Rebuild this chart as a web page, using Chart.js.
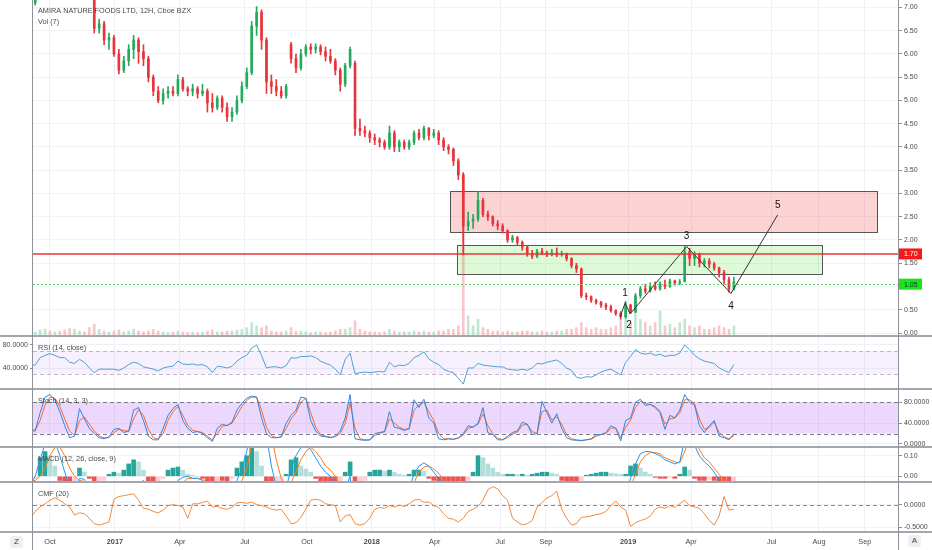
<!DOCTYPE html>
<html lang="en">
<head>
<meta charset="UTF-8">
<title>AMIRA NATURE FOODS LTD, 12H, Cboe BZX</title>
<script src="https://cdn.jsdelivr.net/npm/chart.js"></script>
<style>
  body { margin: 0; background: #fff; font-family: "Liberation Sans", Arial, sans-serif; }
  #wrap { position: relative; width: 932px; height: 550px; overflow: hidden; background: #fff; }
  canvas { position: absolute; left: 0; }
  .hsep { position: absolute; left: 0; width: 932px; height: 2px; background: #a4a7ae; }
  .vsep { position: absolute; top: 0; width: 1px; height: 550px; background: #8e9199; }
  .btn { position: absolute; width: 13px; height: 12px; line-height: 12px; text-align: center;
         font-size: 8px; color: #444; background: #efefef; border-radius: 3px; }
</style>
</head>
<body>
<div id="wrap">
  <canvas id="main" width="932" height="336" style="top:0"></canvas>
  <canvas id="rsi" width="932" height="53" style="top:336px"></canvas>
  <canvas id="stoch" width="932" height="58" style="top:389px"></canvas>
  <canvas id="macd" width="932" height="35" style="top:447px"></canvas>
  <canvas id="cmf" width="932" height="68" style="top:482px"></canvas>
  <div class="hsep" style="top:335px"></div>
  <div class="hsep" style="top:388px"></div>
  <div class="hsep" style="top:446px"></div>
  <div class="hsep" style="top:481px"></div>
  <div class="hsep" style="top:531px"></div>
  <div class="vsep" style="left:32px"></div>
  <div class="vsep" style="left:898px"></div>
  <div class="btn" style="left:10px;top:536px">Z</div>
  <div class="btn" style="left:908px;top:535px">A</div>
</div>
<script>
// weekly samples, week 0 = first week of Oct 2016
const firstWeek = -4;

const opens = [7.00,7.10,7.30,7.60,7.85,7.75,7.80,7.55,7.40,7.35,7.55,7.65,7.50,
  7.40,6.55,6.65,6.30,6.35,6.00,5.65,5.85,6.10,6.30,6.05,
  5.90,5.50,5.20,5.00,5.15,5.20,5.15,5.45,5.25,5.20,
  5.25,5.15,5.20,4.95,4.85,5.05,4.85,4.65,4.75,5.00,
  5.30,5.60,6.60,6.90,6.30,5.40,5.30,5.20,5.10,6.20,
  5.90,5.70,6.00,6.15,6.10,6.15,6.05,5.95,5.85,5.65,
  5.35,5.75,5.80,4.40,4.35,4.30,4.20,4.15,4.10,4.00,
  4.30,4.00,4.10,4.00,4.10,4.30,4.20,4.40,4.25,4.30,
  4.15,4.00,3.95,3.70,3.40,2.30,2.40,2.45,2.85,2.55,
  2.50,2.35,2.30,2.20,2.00,2.05,1.95,1.85,1.70,1.65,
  1.75,1.72,1.68,1.72,1.68,1.70,1.60,1.45,1.38,0.80,
  0.78,0.70,0.66,0.60,0.56,0.48,0.42,0.35,0.60,0.45,
  0.80,0.95,0.90,1.00,0.95,1.05,1.00,1.12,1.08,1.10,
  1.75,1.60,1.70,1.50,1.55,1.48,1.40,1.30,1.15,0.95];
const highs = [7.15,7.35,7.70,7.95,8.05,7.90,7.85,7.65,7.55,7.60,7.80,7.70,7.60,
  7.45,6.75,6.70,6.45,6.40,6.10,5.95,6.20,6.40,6.35,6.20,
  5.95,5.55,5.30,5.25,5.30,5.30,5.55,5.50,5.30,5.35,
  5.30,5.35,5.25,5.15,5.10,5.10,4.95,4.85,5.10,5.40,
  5.70,6.70,7.02,6.95,6.35,5.55,5.45,5.30,5.35,6.25,
  6.00,6.10,6.20,6.22,6.22,6.20,6.15,6.10,5.90,5.70,
  5.80,6.15,5.85,4.60,4.45,4.35,4.28,4.20,4.15,4.45,
  4.35,4.15,4.15,4.15,4.35,4.38,4.45,4.42,4.38,4.35,
  4.20,4.05,3.98,3.75,3.45,2.60,2.55,3.04,2.90,2.62,
  2.52,2.42,2.35,2.22,2.10,2.08,1.98,1.88,1.78,1.80,
  1.82,1.76,1.80,1.83,1.76,1.72,1.62,1.50,1.40,0.86,
  0.80,0.73,0.68,0.64,0.60,0.50,0.46,0.68,0.62,0.85,
  1.00,1.05,1.08,1.10,1.10,1.14,1.16,1.14,1.15,1.86,
  1.82,1.75,1.72,1.60,1.60,1.52,1.42,1.35,1.20,1.20];
const lows = [6.95,7.05,7.25,7.50,7.65,7.55,7.45,7.30,7.25,7.30,7.45,7.40,7.30,
  6.45,6.45,6.20,6.10,5.95,5.57,5.60,5.75,5.90,5.80,5.75,
  5.40,5.10,4.95,4.92,5.05,5.10,5.10,5.20,5.10,5.10,
  5.05,5.10,4.75,4.75,4.80,4.75,4.55,4.55,4.70,4.95,
  5.25,5.55,6.40,6.10,5.15,5.15,5.10,5.05,5.05,5.80,
  5.60,5.65,5.95,6.00,6.02,5.98,5.85,5.80,5.55,5.20,
  5.30,5.70,4.25,4.25,4.22,4.10,4.05,4.00,3.95,3.95,
  3.90,3.90,3.95,3.95,4.05,4.15,4.15,4.15,4.20,4.05,
  3.92,3.85,3.60,3.30,1.68,2.20,2.25,2.40,2.50,2.42,
  2.30,2.22,2.15,1.95,1.95,1.88,1.78,1.65,1.60,1.62,
  1.68,1.64,1.66,1.64,1.65,1.55,1.40,1.30,0.76,0.72,
  0.66,0.62,0.55,0.50,0.45,0.38,0.30,0.32,0.42,0.44,
  0.75,0.85,0.88,0.92,0.92,0.95,0.98,1.03,1.04,1.10,
  1.45,1.45,1.42,1.42,1.40,1.35,1.20,1.05,0.88,0.92];
const closes = [7.10,7.30,7.60,7.85,7.75,7.80,7.55,7.40,7.35,7.55,7.65,7.50,7.40,
  6.55,6.65,6.30,6.35,6.00,5.65,5.85,6.10,6.30,6.05,5.90,
  5.50,5.20,5.00,5.15,5.20,5.15,5.45,5.25,5.20,5.25,
  5.15,5.20,4.95,4.85,5.05,4.85,4.65,4.75,5.00,5.30,
  5.60,6.60,6.90,6.30,5.40,5.30,5.20,5.10,5.30,5.90,
  5.70,6.00,6.15,6.10,6.15,6.05,5.95,5.85,5.65,5.35,
  5.75,6.10,4.40,4.35,4.30,4.20,4.15,4.10,4.00,4.30,
  4.00,4.10,4.00,4.10,4.30,4.20,4.40,4.25,4.30,4.15,
  4.00,3.95,3.70,3.40,2.30,2.40,2.45,2.85,2.55,2.50,
  2.35,2.30,2.20,2.00,2.05,1.95,1.85,1.70,1.65,1.75,
  1.72,1.68,1.72,1.68,1.70,1.60,1.45,1.38,0.80,0.78,
  0.70,0.66,0.60,0.56,0.48,0.42,0.35,0.60,0.45,0.80,
  0.95,0.90,1.00,0.95,1.05,1.00,1.12,1.08,1.10,1.75,
  1.60,1.70,1.50,1.55,1.48,1.40,1.30,1.15,0.95,1.10];
const volumes = [1.5,1.2,1.8,2,1.5,1.2,1.5,1.8,2.2,2,1.5,1.2,2.5,
  3.5,2,1.5,1.2,1.5,1.8,1.2,1.5,2,1.5,1.2,
  1.5,2,1.5,1.2,1,1.2,1.5,1.2,1,1.2,
  1,1.2,1.5,1.8,1.2,1.2,1.5,1.5,1.8,2,
  2.5,4,3,2.5,3,1.5,1.2,1.2,1.5,2.5,
  1.5,1.5,1.2,1,1.2,1.2,1,1.2,1.5,2,
  2,2.5,4.5,2,1.5,1.2,1.2,1,1.2,2,
  1.5,1.2,1.2,1.2,1.5,1.2,1.5,1.2,1.2,1.5,
  1.5,2,2,3,48,6,3,5,2.5,2,
  1.5,1.5,1.2,1.5,1.2,1.2,1.5,1.5,1.2,1.2,
  1.5,1.2,1.2,1.5,1.5,2,2,2.5,4,2.5,
  2,2.5,2,2,2.5,3,5,6,4,7,
  5,4,3,4,7.5,3,3.5,2.5,4,5,
  3,2.5,3,2,2,2.5,3,2.5,2,3];

const rsi = [45,45,58,62,65,62,58,58,50,48,55,50,40,
  32,38,38,38,38,36,40,46,50,48,42,
  40,38,35,40,42,43,52,47,46,47,
  45,46,42,32,43,42,40,43,52,58,
  62,75,80,62,40,42,42,40,44,58,
  57,60,60,61,58,52,48,45,38,28,
  55,66,30,32,33,32,33,34,33,50,
  42,45,44,48,58,62,68,56,50,46,
  38,34,32,22,12,40,40,48,45,44,
  43,42,42,38,37,36,38,36,40,48,
  47,50,52,54,48,40,36,24,22,25,
  24,28,33,36,38,33,28,50,60,72,
  66,64,66,62,64,60,62,62,66,80,
  72,62,56,52,50,48,40,36,32,46];
const stochK = [25,25,60,90,95,85,62,35,12,15,68,48,30,
  20,12,10,14,28,30,22,25,65,70,45,
  15,8,8,30,55,68,76,45,30,22,
  24,20,12,5,30,38,35,42,65,78,
  88,92,90,50,20,12,12,14,40,55,
  65,90,88,45,25,15,14,12,15,25,
  50,95,10,8,7,8,20,22,24,62,
  32,30,26,30,85,70,86,50,40,10,
  8,10,9,12,20,35,32,40,70,22,
  18,8,8,15,22,25,42,38,18,20,
  82,60,40,58,30,12,8,7,6,8,
  10,18,18,22,35,30,6,45,50,80,
  86,74,76,70,60,28,55,50,65,95,
  80,75,35,22,35,45,15,12,8,20];
const stochD = [30,26,45,75,90,88,72,48,25,16,45,52,38,
  25,15,12,12,22,28,26,24,48,66,55,
  28,12,9,20,45,62,72,55,36,26,
  24,22,15,8,20,34,36,40,55,72,
  84,90,90,65,32,16,12,13,30,48,
  60,80,88,60,32,18,15,13,14,20,
  40,78,30,10,8,8,16,21,23,48,
  40,32,28,29,65,75,80,62,45,20,
  10,10,9,11,17,30,33,38,58,35,
  20,11,8,12,19,23,36,38,24,20,
  62,65,46,52,38,18,10,8,7,8,
  9,15,18,20,30,31,12,32,46,70,
  82,78,76,72,63,38,48,50,60,85,
  85,77,48,28,32,42,22,14,10,16];
const macdLine = [-0.04,0.00,0.08,0.16,0.20,0.17,0.10,0.02,-0.05,-0.06,-0.01,-0.015,-0.06,
  -0.20,-0.28,-0.30,-0.30,-0.29,-0.30,-0.26,-0.18,-0.10,-0.04,-0.02,
  -0.07,-0.15,-0.20,-0.18,-0.12,-0.07,-0.02,-0.005,0.00,-0.01,
  -0.01,-0.02,-0.06,-0.10,-0.10,-0.10,-0.12,-0.08,-0.02,0.04,
  0.12,0.30,0.45,0.40,0.20,0.05,-0.05,-0.10,-0.06,0.04,
  0.10,0.14,0.15,0.13,0.09,0.05,0.02,0.00,-0.04,-0.10,
  -0.06,0.00,-0.25,-0.32,-0.33,-0.32,-0.30,-0.27,-0.24,-0.18,
  -0.16,-0.13,-0.10,-0.06,0.01,0.05,0.065,0.05,0.02,-0.01,
  -0.04,-0.07,-0.12,-0.20,-0.35,-0.40,-0.35,-0.25,-0.20,-0.18,
  -0.17,-0.17,-0.17,-0.18,-0.17,-0.16,-0.16,-0.16,-0.15,-0.12,
  -0.10,-0.08,-0.06,-0.04,-0.05,-0.07,-0.10,-0.12,-0.20,-0.22,
  -0.21,-0.20,-0.18,-0.16,-0.14,-0.13,-0.12,-0.08,-0.01,0.06,
  0.11,0.12,0.12,0.11,0.10,0.08,0.07,0.06,0.07,0.18,
  0.20,0.15,0.10,0.07,0.05,0.02,-0.02,-0.05,-0.08,-0.09];
const macdSignal = [-0.02,-0.02,0.00,0.04,0.10,0.14,0.14,0.10,0.04,0.00,-0.02,-0.025,-0.04,
  -0.10,-0.18,-0.24,-0.28,-0.30,-0.30,-0.29,-0.24,-0.18,-0.10,-0.05,
  -0.05,-0.10,-0.15,-0.17,-0.15,-0.11,-0.06,-0.03,-0.01,-0.01,
  -0.01,-0.015,-0.03,-0.06,-0.08,-0.09,-0.10,-0.09,-0.06,-0.02,
  0.04,0.15,0.30,0.38,0.32,0.20,0.08,-0.01,-0.05,-0.03,
  0.02,0.08,0.12,0.14,0.12,0.09,0.05,0.03,0.00,-0.05,
  -0.06,-0.04,-0.12,-0.22,-0.28,-0.31,-0.31,-0.29,-0.27,-0.22,
  -0.18,-0.15,-0.12,-0.08,-0.03,0.02,0.045,0.05,0.035,0.015,
  -0.015,-0.04,-0.08,-0.13,-0.25,-0.34,-0.36,-0.32,-0.27,-0.23,
  -0.20,-0.19,-0.18,-0.18,-0.18,-0.17,-0.17,-0.165,-0.16,-0.14,
  -0.12,-0.10,-0.08,-0.05,-0.04,-0.05,-0.07,-0.09,-0.15,-0.19,
  -0.21,-0.21,-0.20,-0.18,-0.16,-0.145,-0.135,-0.11,-0.05,0.01,
  0.07,0.10,0.115,0.115,0.11,0.09,0.08,0.07,0.065,0.12,
  0.18,0.17,0.13,0.09,0.07,0.04,0.01,-0.02,-0.05,-0.07];
const macdHist = [-0.03,-0.01,0.09,0.12,0.10,0.05,-0.02,-0.05,-0.06,-0.04,0.04,0.02,-0.01,
  -0.05,-0.04,-0.02,0.01,0.02,0.015,0.03,0.06,0.08,0.07,0.03,
  -0.03,-0.05,-0.03,-0.01,0.03,0.04,0.045,0.03,0.01,0.005,
  0.00,-0.01,-0.03,-0.04,-0.02,-0.02,-0.03,-0.01,0.04,0.07,
  0.10,0.14,0.12,0.05,-0.05,-0.08,-0.06,-0.03,0.01,0.08,
  0.09,0.05,0.035,0.02,-0.01,-0.03,-0.03,-0.04,-0.05,-0.04,
  0.02,0.07,-0.05,-0.04,-0.02,0.02,0.03,0.03,0.025,0.03,
  0.02,0.01,0.005,0.01,0.03,0.03,0.025,-0.01,-0.02,-0.03,
  -0.03,-0.04,-0.05,-0.05,-0.06,-0.02,0.02,0.10,0.09,0.06,
  0.04,0.02,0.01,0.01,0.01,0.008,0.01,0.005,0.01,0.015,
  0.02,0.02,0.015,0.01,-0.02,-0.03,-0.03,-0.03,-0.02,0.005,
  0.01,0.015,0.02,0.02,0.015,0.012,0.01,0.01,0.05,0.06,
  0.04,0.02,0.01,-0.005,-0.01,-0.01,-0.005,-0.01,0.01,0.045,
  0.03,-0.01,-0.02,-0.02,-0.015,-0.02,-0.03,-0.03,-0.03,-0.02];
const cmf = [-0.30,-0.15,-0.05,0.02,0.10,0.15,0.10,0.02,-0.05,-0.23,-0.18,-0.20,-0.30,
  -0.42,-0.45,-0.42,-0.38,0.12,0.18,0.20,0.22,0.24,0.10,-0.08,
  -0.10,-0.15,-0.18,-0.12,-0.02,0.00,-0.02,-0.05,-0.30,0.02,
  0.02,0.05,0.08,-0.05,-0.04,-0.08,-0.10,-0.06,0.04,0.05,
  0.03,0.06,0.00,-0.02,-0.05,-0.10,-0.12,-0.10,-0.25,-0.42,
  -0.40,-0.28,-0.10,0.10,0.12,0.10,0.02,0.00,-0.02,-0.38,
  -0.25,-0.22,-0.42,-0.45,-0.42,-0.30,-0.10,-0.06,-0.08,-0.02,
  -0.05,-0.01,-0.04,0.02,0.10,0.12,0.05,0.06,-0.02,-0.06,
  -0.20,-0.30,-0.32,-0.38,-0.30,-0.15,-0.10,-0.04,0.10,0.33,
  0.40,0.35,0.20,0.10,-0.30,-0.38,-0.45,-0.42,-0.35,-0.05,
  0.05,0.15,0.20,0.30,-0.10,-0.30,-0.45,-0.42,-0.28,-0.27,
  -0.25,-0.22,-0.20,-0.15,-0.02,0.08,-0.05,-0.12,-0.48,-0.40,
  -0.35,-0.32,-0.25,-0.10,-0.05,-0.08,-0.02,-0.06,0.02,0.10,
  -0.02,-0.05,-0.08,-0.20,-0.35,-0.45,-0.25,0.18,-0.12,-0.10];

// time axis
const tickWeeks = [0, 13.2, 26.4, 39.6, 52.2, 65.4, 78.2, 91.5, 100.8, 117.5, 130.3, 146.7, 156.3, 165.6];
const tickLabels = ['Oct', '2017', 'Apr', 'Jul', 'Oct', '2018', 'Apr', 'Jul', 'Sep', '2019', 'Apr', 'Jul', 'Aug', 'Sep'];
const viewStart = -3.45, viewEnd = 172.56;
const priceTicks = [0, 0.5, 1, 1.5, 2, 2.5, 3, 3.5, 4, 4.5, 5, 5.5, 6, 6.5, 7];

// drawings
const zoneStart = [81.3, 82.7], zoneEnd = [168.1, 156.9];
const zoneTop = [3.05, 1.89], zoneBottom = [2.17, 1.27];
const zoneFill = ['rgba(244, 80, 80, 0.25)', 'rgba(80, 230, 60, 0.2)'];
const levelRed = 1.70, levelGreen = 1.05;
const waveX = [115.9, 116.9, 117.9, 129.4, 138.4, 147.9];
const waveY = [0.35, 0.65, 0.41, 1.86, 0.85, 2.54];
const waveLabels = ['1', '2', '3', '4', '5'];
const waveLabelX = [116.9, 117.7, 129.4, 138.4, 147.9];
const waveLabelY = [0.86, 0.17, 2.07, 0.58, 2.75];

const weeks = opens.map((_, i) => firstWeek + i);
const pts = arr => arr.map((v, i) => ({ x: weeks[i], y: v }));
const upCol = '#22ab5e', downCol = '#e8343b';
const candleCol = opens.map((o, i) => closes[i] >= o ? upCol : downCol);
const volCol = opens.map((o, i) => closes[i] >= o ? 'rgba(60, 180, 120, 0.32)' : 'rgba(235, 80, 90, 0.32)');
const histCol = macdHist.map((h, i) => {
  const p = i > 0 ? macdHist[i - 1] : h;
  if (h >= 0) return h >= p ? '#26a69a' : '#b2dfdb';
  return h <= p ? '#ef5350' : '#ffcdd2';
});

Chart.defaults.font.family = '"Liberation Sans", Arial, sans-serif';
Chart.defaults.color = '#4a4a4a';

const paneDecor = {
  id: 'paneDecor',
  beforeDatasetsDraw(chart, args, opts) {
    const { ctx, chartArea: a, scales: { y } } = chart;
    ctx.save();
    if (opts.band) {
      const y0 = y.getPixelForValue(opts.band[1]), y1 = y.getPixelForValue(opts.band[0]);
      ctx.fillStyle = opts.bandColor;
      ctx.fillRect(a.left, y0, a.right - a.left, y1 - y0);
    }
    (opts.dashes || []).forEach(v => {
      const py = Math.round(y.getPixelForValue(v)) + 0.5;
      ctx.strokeStyle = opts.dashColor || '#888';
      ctx.lineWidth = 1;
      ctx.setLineDash([4, 3]);
      ctx.beginPath();
      ctx.moveTo(a.left, py);
      ctx.lineTo(a.right, py);
      ctx.stroke();
    });
    ctx.restore();
  },
  afterDraw(chart, args, opts) {
    const { ctx } = chart;
    ctx.save();
    ctx.fillStyle = '#4a4a4a';
    ctx.font = '7.3px "Liberation Sans", Arial, sans-serif';
    ctx.textBaseline = 'middle';
    (opts.titles || []).forEach(t => ctx.fillText(t[0], 38, t[1]));
    ctx.restore();
  }
};
Chart.register(paneDecor);

const mainDecor = {
  id: 'mainDecor',
  beforeDatasetsDraw(chart) {
    const { ctx, scales: { x, y } } = chart;
    ctx.save();
    zoneStart.forEach((s, i) => {
      const x0 = Math.round(x.getPixelForValue(s)), x1 = Math.round(x.getPixelForValue(zoneEnd[i]));
      const y0 = Math.round(y.getPixelForValue(zoneTop[i])), y1 = Math.round(y.getPixelForValue(zoneBottom[i]));
      ctx.fillStyle = zoneFill[i];
      ctx.fillRect(x0, y0, x1 - x0, y1 - y0);
      ctx.strokeStyle = '#555';
      ctx.lineWidth = 1;
      ctx.strokeRect(x0 + 0.5, y0 + 0.5, x1 - x0, y1 - y0);
    });
    ctx.restore();
  },
  afterDatasetsDraw(chart) {
    const { ctx, chartArea: a, scales: { x, y } } = chart;
    ctx.save();
    let py = y.getPixelForValue(levelRed);
    ctx.strokeStyle = '#e53935';
    ctx.lineWidth = 1.5;
    ctx.beginPath(); ctx.moveTo(a.left, py); ctx.lineTo(a.right, py); ctx.stroke();
    py = Math.round(y.getPixelForValue(levelGreen)) + 0.5;
    ctx.strokeStyle = '#5fd35f';
    ctx.lineWidth = 1;
    ctx.setLineDash([2, 2]);
    ctx.beginPath(); ctx.moveTo(a.left, py); ctx.lineTo(a.right, py); ctx.stroke();
    ctx.setLineDash([]);
    ctx.fillStyle = '#111';
    ctx.font = '10px "Liberation Sans", Arial, sans-serif';
    ctx.textAlign = 'center';
    ctx.textBaseline = 'middle';
    waveLabels.forEach((t, i) => ctx.fillText(t, x.getPixelForValue(waveLabelX[i]), y.getPixelForValue(waveLabelY[i])));
    ctx.restore();
  },
  afterDraw(chart) {
    const { ctx, chartArea: a, scales: { y } } = chart;
    ctx.save();
    ctx.font = '7px "Liberation Sans", Arial, sans-serif';
    ctx.textBaseline = 'middle';
    [[levelRed, '#f21b1b', '#fff'], [levelGreen, '#19e619', '#133']].forEach(b => {
      const py = y.getPixelForValue(b[0]);
      ctx.fillStyle = b[1];
      ctx.fillRect(a.right, py - 5.5, 23, 11);
      ctx.fillStyle = b[2];
      ctx.fillText(b[0].toFixed(2), a.right + 5, py + 0.5);
    });
    ctx.restore();
  }
};

function xScale(showLabels) {
  return {
    type: 'linear', min: viewStart, max: viewEnd, offset: false,
    afterBuildTicks: s => { s.ticks = tickWeeks.map(v => ({ value: v })); },
    afterFit: s => { s.height = showLabels ? 18 : 0; s.paddingLeft = 0; s.paddingRight = 0; },
    grid: { color: '#eef0f4', drawTicks: false, offset: false },
    border: { display: false },
    ticks: {
      display: showLabels, padding: 6, maxRotation: 0, autoSkip: false, color: '#4a4a4a',
      font: c => ({ size: 7.3, weight: /^\d{4}$/.test(tickLabels[c.index]) ? 'bold' : 'normal' }),
      callback: (v, i) => tickLabels[i]
    }
  };
}

function yScale(pos, min, max, ticks, digits) {
  return {
    position: pos, min: min, max: max,
    afterBuildTicks: s => { s.ticks = ticks.map(v => ({ value: v })); },
    afterFit: s => { s.width = 33; s.paddingTop = 0; s.paddingBottom = 0; },
    grid: { color: '#f0f2f6', tickLength: 3, tickColor: '#8d9098' },
    border: { display: false },
    ticks: { padding: 2, color: '#4a4a4a', font: { size: 7 }, callback: v => v.toFixed(digits) }
  };
}

function baseOptions(scales, decor, padding) {
  return {
    responsive: false, animation: false, events: [],
    layout: { padding: padding || { left: 33, right: 0, top: 0, bottom: 0 } },
    plugins: { legend: { display: false }, tooltip: { enabled: false }, paneDecor: decor },
    scales: scales
  };
}

const lineSet = (data, color) => ({
  type: 'line', data: pts(data), borderColor: color, borderWidth: 1,
  pointRadius: 0, tension: 0, order: 0
});

// price pane
new Chart(document.getElementById('main'), {
  type: 'bar',
  data: {
    datasets: [
      { type: 'line', data: waveX.map((w, i) => ({ x: w, y: waveY[i] })), borderColor: '#333',
        borderWidth: 1, pointRadius: 0, tension: 0, order: 0 },
      { data: weeks.map((w, i) => ({ x: w, y: [opens[i], closes[i]] })), backgroundColor: candleCol,
        barThickness: 2, grouped: false, order: 1 },
      { data: weeks.map((w, i) => ({ x: w, y: [lows[i], highs[i]] })), backgroundColor: candleCol,
        barThickness: 1, grouped: false, order: 2 },
      { data: pts(volumes), backgroundColor: volCol, barThickness: 2, grouped: false,
        yAxisID: 'yv', order: 3 }
    ]
  },
  options: baseOptions({
    x: xScale(false),
    y: yScale('right', -0.0645, 7.161, priceTicks, 2),
    yv: { display: false, min: 0, max: 100 }
  }, { titles: [['AMIRA NATURE FOODS LTD, 12H, Cboe BZX', 11], ['Vol (7)', 22]] }),
  plugins: [mainDecor]
});

// RSI pane, scale on the left
new Chart(document.getElementById('rsi'), {
  type: 'line',
  data: { datasets: [lineSet(rsi, '#4aa2d4')] },
  options: baseOptions({
    x: xScale(false),
    y: yScale('left', 3.48, 95.65, [40, 80], 4)
  }, { titles: [['RSI (14, close)', 12]], band: [30, 70], bandColor: 'rgba(160, 100, 230, 0.09)',
       dashes: [30, 70], dashColor: '#c9b3cc' }, { left: 0, right: 33, top: 0, bottom: 0 })
});

new Chart(document.getElementById('stoch'), {
  type: 'line',
  data: { datasets: [lineSet(stochK, '#2f86dd'), lineSet(stochD, '#ee6a33')] },
  options: baseOptions({
    x: xScale(false),
    y: yScale('right', -5.8, 105.6, [0, 40, 80], 4)
  }, { titles: [['Stoch (14, 3, 3)', 12]], band: [20, 80], bandColor: 'rgba(160, 60, 240, 0.2)',
       dashes: [20, 80], dashColor: '#787b86' })
});

new Chart(document.getElementById('macd'), {
  type: 'bar',
  data: {
    datasets: [
      lineSet(macdLine, '#2196f3'),
      lineSet(macdSignal, '#ff7a1a'),
      { data: pts(macdHist), backgroundColor: histCol, barThickness: 4, grouped: false, order: 1 }
    ]
  },
  options: baseOptions({
    x: xScale(false),
    y: yScale('right', -0.0277, 0.1422, [0, 0.1], 2)
  }, { titles: [['MACD (12, 26, close, 9)', 12]] })
});

new Chart(document.getElementById('cmf'), {
  type: 'line',
  data: { datasets: [lineSet(cmf, '#f5883a')] },
  options: baseOptions({
    x: xScale(true),
    y: yScale('right', -0.604, 0.502, [-0.5, 0], 4)
  }, { titles: [['CMF (20)', 12]], dashes: [0], dashColor: '#8a8a8a' })
});
</script>
</body>
</html>
